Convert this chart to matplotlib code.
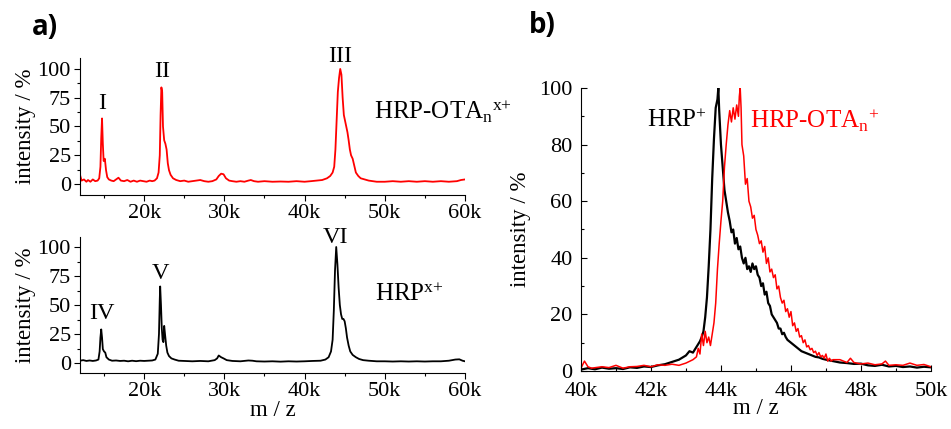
import matplotlib
matplotlib.use("Agg")
import matplotlib.pyplot as plt
from matplotlib.ticker import MultipleLocator, FuncFormatter

plt.rcParams['font.family'] = ['Liberation Serif', 'DejaVu Serif']
plt.rcParams['mathtext.fontset'] = 'custom'
plt.rcParams['mathtext.rm'] = 'Liberation Serif'
plt.rcParams['mathtext.it'] = 'Liberation Serif'

FS = 16          # tick labels
LFS = 16.5       # axis labels
AFS = 18         # sample annotations
NFS = 17.5       # roman numerals

# ---------------- data (m/z in Da, intensity in %) ----------------
# panel a, top: HRP-OTA_n (red)
top_mz = [12000, 12200, 12500, 12800, 13000, 13300, 13600, 13900, 14200, 14400,
          14550, 14650, 14750, 14850, 14950, 15100, 15250, 15400, 15600, 15900,
          16200, 16500, 16800, 17100, 17500, 17900, 18300, 18700, 19100, 19500,
          19900, 20300, 20700, 21000, 21300, 21600, 21800, 21950, 22050, 22150,
          22250, 22350, 22500, 22650, 22800, 22950, 23100, 23300, 23600, 24000,
          24500, 25000, 25500, 26000, 26500, 27000, 27500, 28000, 28500, 29000,
          29300, 29600, 29900, 30200, 30600, 31000, 31500, 32000, 32500, 33000,
          33300, 33700, 34200, 35000, 36000, 37000, 38000, 39000, 40000, 40800,
          41500, 42200, 42800, 43200, 43500, 43700, 43850, 44000, 44150, 44300,
          44450, 44600, 44750, 44900, 45050, 45200, 45350, 45500, 45650, 45800,
          46000, 46200, 46400, 46700, 47000, 47500, 48000, 48500, 49000, 50000,
          51000, 52000, 53000, 54000, 55000, 56000, 57000, 58000, 59000, 59500, 60000]
top_int = [8, 3, 4, 2, 3.5, 2, 4, 2.5, 3, 5,
           15, 40, 57, 35, 20, 22, 12, 6, 4, 3,
           2.5, 4, 5.5, 3, 2.5, 3.5, 2, 3, 2, 3,
           2.5, 2, 3, 2.5, 3, 5, 10, 25, 60, 84,
           80, 50, 38, 35, 30, 18, 12, 8, 5, 3.5,
           2.5, 3, 2, 2.5, 3, 3.5, 2.5, 2, 2.5, 4,
           7, 9, 8.5, 5, 3, 2.5, 2, 2.5, 2, 3,
           3.5, 2.5, 2, 2.5, 2, 2.2, 2, 2.5, 2, 2.5,
           3, 3.5, 5, 7, 10, 15, 30, 55, 80, 92,
           100, 95, 75, 60, 55, 50, 45, 38, 30, 25,
           22, 16, 10, 7, 5, 4, 3, 2.5, 2, 2,
           2.5, 2, 2.5, 2, 2.5, 2, 2.5, 2, 2.5, 3.5, 4]

# panel a, bottom: HRP (black)
bot_mz = [12000, 12400, 12800, 13200, 13600, 14000, 14300, 14450, 14550, 14650,
          14750, 14850, 15000, 15150, 15300, 15600, 16000, 16500, 17000, 17500,
          18000, 18500, 19000, 19500, 20000, 20500, 21000, 21400, 21700, 21850,
          21950, 22000, 22100, 22200, 22300, 22400, 22500, 22600, 22750, 22900,
          23100, 23400, 23800, 24300, 25000, 26000, 27000, 28000, 28800, 29100,
          29300, 29600, 29900, 30300, 31000, 32000, 33000, 33500, 34000, 35000,
          36000, 37000, 38000, 39000, 40000, 41000, 42000, 42600, 43000, 43300,
          43500, 43650, 43800, 43950, 44100, 44250, 44400, 44550, 44700, 44850,
          45000, 45150, 45300, 45500, 45700, 46000, 46400, 46800, 47300, 48000,
          49000, 50000, 51000, 52000, 53000, 54000, 55000, 56000, 57000, 58000,
          58800, 59300, 59700, 60000]
bot_int = [2, 2.5, 1.8, 2.2, 1.8, 2.2, 3, 10, 22, 29,
           22, 12, 10, 9, 5, 3, 2, 2.2, 1.8, 2,
           1.5, 2, 1.6, 2, 1.8, 2, 2.2, 3, 8, 25,
           55, 66, 50, 30, 20, 18, 32, 25, 15, 9,
           6, 4, 3, 2, 1.8, 1.5, 1.8, 1.5, 2.5, 4,
           6.5, 5, 4, 2.5, 1.8, 1.5, 2.2, 2, 1.5, 1.3,
           1.5, 1.2, 1.5, 1.3, 1.5, 1.8, 2, 3, 5, 10,
           20, 45, 80, 100, 85, 65, 50, 42, 38, 38,
           36, 30, 22, 15, 10, 7, 5, 3.5, 2.5, 2,
           1.5, 1.5, 1.3, 1.5, 1.3, 1.5, 1.3, 1.5, 1.5, 2,
           3, 3.2, 2, 1.5]

# panel b: HRP+ (black)
b_hrp_mz = [40000, 40200, 40400, 40600, 40800, 41000, 41200, 41400, 41600, 41800,
            42000, 42200, 42400, 42600, 42800, 43000, 43100, 43200, 43300, 43400,
            43450, 43500, 43550, 43600, 43650, 43700, 43750, 43800, 43850, 43900,
            43925, 43950, 44000, 44050, 44100, 44150, 44200, 44250, 44300, 44350,
            44400, 44450, 44500, 44550, 44600, 44650, 44700, 44750, 44800, 44850,
            44900, 44950, 45000, 45050, 45100, 45150, 45200, 45250, 45300, 45350,
            45400, 45450, 45500, 45550, 45600, 45650, 45700, 45750, 45800, 45850,
            45900, 45950, 46000, 46100, 46200, 46300, 46400, 46500, 46600, 46700,
            46800, 46900, 47000, 47200, 47400, 47600, 47800, 48000, 48200, 48400,
            48600, 48800, 49000, 49200, 49400, 49600, 49800, 50000]
b_hrp_int = [0.5, 1.0, 0.6, 1.2, 0.8, 1.0, 0.7, 1.3, 1.1, 1.6,
             1.4, 2.0, 2.4, 3.2, 4.0, 5.5, 7.0, 6.5, 8.5, 10.5,
             12, 14, 19, 26, 37, 50, 68, 82, 93, 96,
             100, 92, 80, 72, 64, 60, 56, 53, 49, 50,
             45, 47, 43, 44, 40, 38, 40, 36, 37, 35,
             38, 36, 37, 34, 33, 30, 31, 27, 28, 24,
             23, 20, 19, 18, 17, 15, 15, 13, 13.5, 12,
             11, 10.5, 10, 9, 8, 7, 6.5, 6, 5.5, 5,
             4.8, 4.3, 4.0, 3.5, 3.0, 2.8, 2.5, 2.6, 2.0, 1.8,
             2.2, 1.6, 1.8, 1.4, 1.6, 1.2, 1.5, 1.3]

# panel b: HRP-OTA_n+ (red)
b_ota_mz = [40000, 40100, 40200, 40300, 40600, 40800, 41000, 41200, 41400, 41600,
            41800, 42000, 42200, 42400, 42600, 42800, 43000, 43200, 43300, 43350,
            43400, 43450, 43500, 43550, 43600, 43650, 43700, 43750, 43800, 43850,
            43900, 43950, 44000, 44050, 44100, 44150, 44200, 44250, 44300, 44350,
            44400, 44450, 44500, 44525, 44550, 44575, 44600, 44650, 44700, 44750,
            44800, 44850, 44900, 44950, 45000, 45050, 45100, 45150, 45200, 45250,
            45300, 45350, 45400, 45450, 45500, 45550, 45600, 45650, 45700, 45750,
            45800, 45850, 45900, 45950, 46000, 46050, 46100, 46150, 46200, 46250,
            46300, 46350, 46400, 46450, 46500, 46550, 46600, 46650, 46700, 46750,
            46800, 46850, 46900, 46950, 47000, 47050, 47100, 47150, 47200, 47400,
            47600, 47700, 47800, 48000, 48200, 48400, 48600, 48700, 48800, 49000,
            49200, 49400, 49600, 49800, 50000]
b_ota_int = [1, 3.5, 1.5, 1, 1.5, 1.2, 2, 1, 1.5, 1.6,
             2, 1.5, 2.2, 2.0, 2.4, 2.0, 2.8, 4, 5, 8,
             6, 13, 9, 14, 10, 12, 9, 13, 17, 24,
             36, 45, 53, 60, 72, 80, 87, 92, 88, 93,
             89, 94, 90, 97, 100, 93, 80, 76, 66, 68,
             60, 58, 54, 55, 50, 48, 45, 46, 42, 44,
             38, 40, 35, 36, 33, 34, 29, 30, 26, 24,
             25, 21, 22, 19, 21, 16, 17, 14, 15, 12,
             12.5, 10, 11, 8.5, 9, 7.5, 8, 6.5, 7, 5.5,
             6.5, 5, 5.5, 4.5, 6, 3.5, 4.5, 3.5, 4, 4,
             3, 4.5, 3, 2.5, 2.8, 2.2, 2.5, 3.5, 2.0, 2.2,
             2.0, 2.8, 2.0, 2.3, 1.5]

RED = '#ff0000'
BLACK = '#000000'

kfmt = FuncFormatter(lambda v, p: f"{int(round(v / 1000))}k")

fig = plt.figure(figsize=(9.51, 4.29), dpi=100)

ax1 = fig.add_axes([0.0841, 0.5455, 0.4048, 0.3193])
ax2 = fig.add_axes([0.0841, 0.1305, 0.4048, 0.3170])
ax3 = fig.add_axes([0.6109, 0.1352, 0.3680, 0.6597])

ax1.plot(top_mz, top_int, color=RED, lw=1.3)
ax2.plot(bot_mz, bot_int, color=BLACK, lw=1.3)
ax3.plot(b_hrp_mz, b_hrp_int, color=BLACK, lw=1.6)
ax3.plot(b_ota_mz, b_ota_int, color=RED, lw=1.1)

for ax, ylim in ((ax1, (-9.5, 109.5)), (ax2, (-8.6, 108.6))):
    ax.set_xlim(12000, 60000)
    ax.set_ylim(*ylim)
    ax.xaxis.set_major_locator(MultipleLocator(10000))
    ax.xaxis.set_minor_locator(MultipleLocator(5000))
    ax.xaxis.set_major_formatter(kfmt)
    ax.yaxis.set_major_locator(MultipleLocator(25))
    ax.yaxis.set_minor_locator(MultipleLocator(12.5))
    ax.tick_params(which='both', direction='out', labelsize=FS, width=0.8)
    ax.tick_params(which='major', length=4, pad=2.5)
    ax.tick_params(which='minor', length=2.5)
    ax.set_ylabel('intensity / %', fontsize=LFS, labelpad=1)
    for s in ('top', 'right'):
        ax.spines[s].set_visible(False)

ax2.set_xlabel('m / z', fontsize=LFS, labelpad=-1)

ax3.set_xlim(40000, 50000)
ax3.set_ylim(0, 100)
ax3.xaxis.set_major_locator(MultipleLocator(2000))
ax3.xaxis.set_minor_locator(MultipleLocator(1000))
ax3.xaxis.set_major_formatter(kfmt)
ax3.yaxis.set_major_locator(MultipleLocator(20))
ax3.yaxis.set_minor_locator(MultipleLocator(10))
ax3.tick_params(which='both', direction='in', labelsize=FS, width=0.8)
ax3.tick_params(which='major', length=4)
ax3.tick_params(which='minor', length=2.5)
ax3.tick_params(axis='x', which='major', pad=8)
ax3.tick_params(axis='y', which='major', pad=6)
ax3.set_ylabel('intensity / %', fontsize=LFS, labelpad=6)
ax3.set_xlabel('m / z', fontsize=LFS, labelpad=-2)
for s in ('top', 'right'):
    ax3.spines[s].set_visible(False)

# annotations panel a
ax1.text(14750, 70, 'I', fontsize=NFS, ha='center', va='center')
ax1.text(22200, 98, 'II', fontsize=NFS, ha='center', va='center')
ax1.text(44500, 111, 'III', fontsize=NFS, ha='center', va='center', clip_on=False)
ax1.text(48600, 63, r'HRP-OTA$_\mathregular{n}$$^\mathregular{x{+}}$', fontsize=AFS,
         ha='left', va='center', clip_on=False)
ax2.text(14700, 43, 'IV', fontsize=NFS, ha='center', va='center')
ax2.text(22000, 77, 'V', fontsize=NFS, ha='center', va='center')
ax2.text(43900, 108, 'VI', fontsize=NFS, ha='center', va='center', clip_on=False)
ax2.text(48750, 59, r'HRP$^\mathregular{x{+}}$', fontsize=AFS, ha='left', va='center')

# annotations panel b
ax3.text(41900, 88.5, r'HRP$^\mathregular{+}$', fontsize=AFS, ha='left', va='center', color=BLACK)
ax3.text(44830, 88.5, r'HRP-OTA$_\mathregular{n}$$^\mathregular{+}$', fontsize=AFS,
         ha='left', va='center', color=RED)

fig.text(0.033, 0.935, 'a)', fontsize=20, fontweight='bold', family='Open Sans',
         ha='left', va='center')
fig.text(0.556, 0.94, 'b)', fontsize=20, fontweight='bold', family='Open Sans',
         ha='left', va='center')

fig.savefig('out.png', dpi=100)
